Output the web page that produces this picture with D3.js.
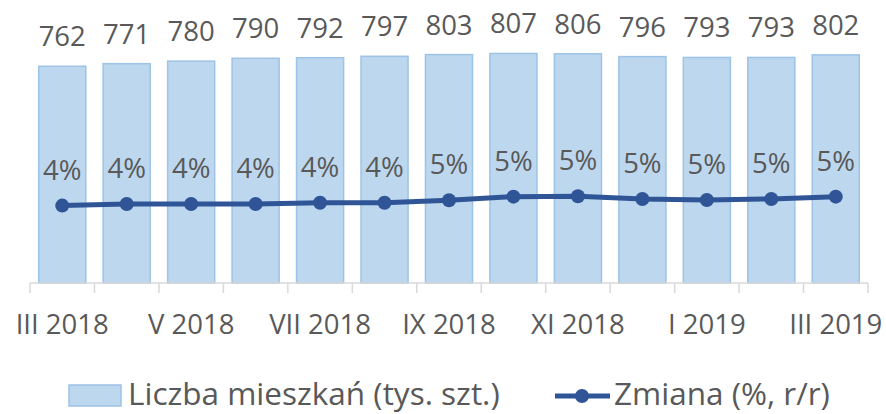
<!DOCTYPE html>
<html lang="pl">
<head>
  <meta charset="utf-8" />
  <title>Liczba mieszkań</title>
  <script src="https://cdn.jsdelivr.net/npm/d3@7/dist/d3.min.js"></script>
  <style>
    body { margin: 0; background: #fff; }
    text { font-family: "Open Sans", "Noto Sans", sans-serif; fill: #595959; }
  </style>
</head>
<body>
  <script>
    // dane
    var months = ["III 2018", "IV 2018", "V 2018", "VI 2018", "VII 2018", "VIII 2018", "IX 2018",
      "X 2018", "XI 2018", "XII 2018", "I 2019", "II 2019", "III 2019"];
    var flats = [762, 771, 780, 790, 792, 797, 803, 807, 806, 796, 793, 793, 802];
    var change = [4.2, 4.31, 4.31, 4.31, 4.4, 4.4, 4.57, 4.82, 4.85, 4.66, 4.59, 4.66, 4.82];
    var shownTicks = ["III 2018", "V 2018", "VII 2018", "IX 2018", "XI 2018", "I 2019", "III 2019"];
    var barName = "Liczba mieszkań (tys. szt.)";
    var lineName = "Zmiana (%, r/r)";

    var width = 886, height = 414;
    var plotLeft = 30, plotRight = 868, base = 283, plotTop = 27;

    var svg = d3.select("body").append("svg")
      .attr("width", width)
      .attr("height", height);

    var x = d3.scaleBand().domain(months).range([plotLeft, plotRight]).paddingInner(0.27).paddingOuter(0.135);
    var y = d3.scaleLinear().domain([0, 900]).range([base, plotTop]);
    var y2 = d3.scaleLinear().domain([-1.15, 16.55]).range([base, plotTop]);

    // słupki
    svg.append("g").selectAll("rect")
      .data(flats)
      .enter()
      .append("rect")
      .attr("x", function (d, i) { return x(months[i]); })
      .attr("y", function (d) { return y(d); })
      .attr("width", x.bandwidth())
      .attr("height", function (d) { return base - y(d); })
      .attr("fill", "#bdd7ee")
      .attr("stroke", "#9dc3e6")
      .attr("stroke-width", 1.5);

    svg.append("g").selectAll("text")
      .data(flats)
      .enter()
      .append("text")
      .attr("x", function (d, i) { return x(months[i]) + x.bandwidth() / 2; })
      .attr("y", function (d) { return y(d) - 20; })
      .attr("text-anchor", "middle")
      .attr("font-size", 27.5)
      .text(function (d) { return d; });

    // oś X
    var step = x.step();
    var tickPos = d3.range(months.length + 1).map(function (i) { return plotLeft + i * step; });
    var axis = svg.append("g");
    axis.append("line")
      .attr("x1", plotLeft).attr("x2", plotRight)
      .attr("y1", base).attr("y2", base)
      .attr("stroke", "#d9d9d9").attr("stroke-width", 1.5);
    axis.selectAll(".tick")
      .data(tickPos)
      .enter()
      .append("line")
      .attr("x1", function (d) { return d; })
      .attr("x2", function (d) { return d; })
      .attr("y1", base).attr("y2", base + 10)
      .attr("stroke", "#d9d9d9").attr("stroke-width", 1.5);
    axis.selectAll("text")
      .data(shownTicks)
      .enter()
      .append("text")
      .attr("x", function (d) { return x(d) + x.bandwidth() / 2; })
      .attr("y", 334)
      .attr("text-anchor", "middle")
      .attr("font-size", 27.5)
      .text(function (d) { return d; });

    // linia
    var line = d3.line()
      .x(function (d, i) { return x(months[i]) + x.bandwidth() / 2; })
      .y(function (d) { return y2(d); });

    svg.append("path")
      .datum(change)
      .attr("d", line)
      .attr("fill", "none")
      .attr("stroke", "#2f5597")
      .attr("stroke-width", 5)
      .attr("stroke-linejoin", "round");

    svg.append("g").selectAll("circle")
      .data(change)
      .enter()
      .append("circle")
      .attr("cx", function (d, i) { return x(months[i]) + x.bandwidth() / 2; })
      .attr("cy", function (d) { return y2(d); })
      .attr("r", 7)
      .attr("fill", "#2f5597");

    svg.append("g").selectAll("text")
      .data(change)
      .enter()
      .append("text")
      .attr("x", function (d, i) { return x(months[i]) + x.bandwidth() / 2; })
      .attr("y", function (d) { return y2(d) - 26; })
      .attr("text-anchor", "middle")
      .attr("font-size", 27.5)
      .text(function (d) { return Math.round(d) + "%"; });

    // legenda
    var legend = svg.append("g");
    legend.append("rect")
      .attr("x", 69).attr("y", 385)
      .attr("width", 52).attr("height", 21)
      .attr("fill", "#bdd7ee")
      .attr("stroke", "#9dc3e6")
      .attr("stroke-width", 1.5);
    legend.append("text")
      .attr("x", 128).attr("y", 405)
      .attr("font-size", 31.5)
      .text(barName);
    legend.append("line")
      .attr("x1", 555).attr("x2", 610)
      .attr("y1", 396).attr("y2", 396)
      .attr("stroke", "#2f5597").attr("stroke-width", 5);
    legend.append("circle")
      .attr("cx", 582).attr("cy", 396).attr("r", 7)
      .attr("fill", "#2f5597");
    legend.append("text")
      .attr("x", 614).attr("y", 405)
      .attr("font-size", 31.5)
      .text(lineName);
  </script>
</body>
</html>
